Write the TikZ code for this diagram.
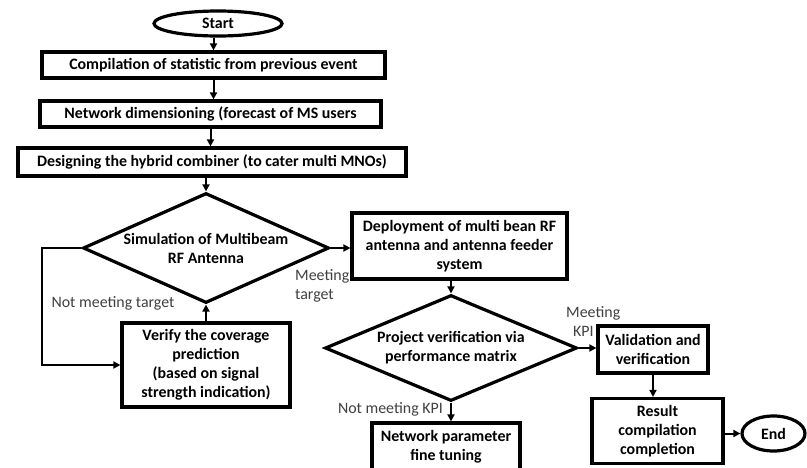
\documentclass[tikz,border=0pt]{standalone}
\usepackage{fontspec}
\setmainfont{Carlito}
\usetikzlibrary{shapes.geometric,arrows.meta}
\begin{document}
\begin{tikzpicture}[x=1pt,y=-1pt,
  txt/.style={font=\fontsize{15.9}{19}\selectfont},
  btxt/.style={font=\bfseries\fontsize{15.9}{19}\selectfont},
  box/.style={btxt,draw,line width=3.2pt,inner sep=0pt,align=center},
  term/.style={btxt,ellipse,draw,line width=3.2pt,inner sep=0pt},
  dec/.style={btxt,diamond,draw,line width=3.2pt,inner sep=0pt,align=center},
  lbl/.style={txt,text=black!75,align=left,inner sep=0pt},
  arr/.style={line width=2pt,-{Triangle[length=7pt,width=7pt]}}]
\useasboundingbox (0,0) rectangle (807,467);
\clip (0,0) rectangle (807,467);
\fill[white] (0,0) rectangle (807,467);

\node[term,minimum width=128pt,minimum height=25pt] (start) at (218,23.5) {Start};
\node[box,minimum width=343pt,minimum height=26pt] (b1) at (213.5,65) {Compilation of statistic from previous event};
\node[box,minimum width=341pt,minimum height=26pt] (b2) at (210.5,114) {Network dimensioning (forecast of MS users};
\node[box,minimum width=388pt,minimum height=28pt] (b3) at (212,162) {Designing the hybrid combiner (to cater multi MNOs)};
\node[dec,aspect=2.236,minimum width=246pt,minimum height=110pt] (d1) at (206,248) {Simulation of Multibeam\\RF Antenna};
\node[box,minimum width=215pt,minimum height=66pt] (dep) at (459.5,246) {Deployment of multi bean RF\\antenna and antenna feeder\\system};
\node[box,minimum width=168pt,minimum height=84pt] (ver) at (206,365) {Verify the coverage\\prediction\\(based on signal\\strength indication)};
\node[dec,aspect=2.377,minimum width=252pt,minimum height=106pt] (d2) at (451,348) {Project verification via\\performance matrix};
\node[box,minimum width=148pt,minimum height=48pt] (net) at (446,447) {Network parameter\\fine tuning};
\node[box,minimum width=110pt,minimum height=47pt] (val) at (653,349.5) {Validation and\\verification};
\node[box,minimum width=131pt,minimum height=65pt] (res) at (657.5,431) {Result\\compilation\\completion};
\node[term,minimum width=63pt,minimum height=35pt] (end) at (773.5,433.5) {End};

\node[lbl,anchor=west] (lmt) at (295,286) {Meeting\\target};
\node[lbl] (lnmt) at (113,303) {Not meeting target};
\node[lbl,anchor=east] (lnmk) at (443,409) {Not meeting KPI};
\node[lbl,anchor=west] (lmk) at (566,321) {Meeting\\\hspace{7pt}KPI};

\draw[arr] (start.south -| b1) -- (b1.north);
\draw[arr] (b1.south) -- (b1.south |- b2.north);
\draw[arr] (b2.south) -- (b2.south |- b3.north);
\draw[arr] (b3.south -| d1) -- (d1.north);
\draw[arr] (d1.east) -- (d1.east -| dep.west);
\draw[arr] (ver.north) -- (d1.south);
\draw[arr] (d1.west) -- ++(-39,0) |- (ver.west);
\draw[arr] (dep.south -| d2) -- (d2.north);
\draw[arr] (d2.south) -- (d2.south |- net.north);
\draw[arr] (d2.east) -- (d2.east -| val.west);
\draw[arr] (val.south) -- (val.south |- res.north);
\draw[arr] (end.west -| res.east) -- (end.west);
\end{tikzpicture}
\end{document}
